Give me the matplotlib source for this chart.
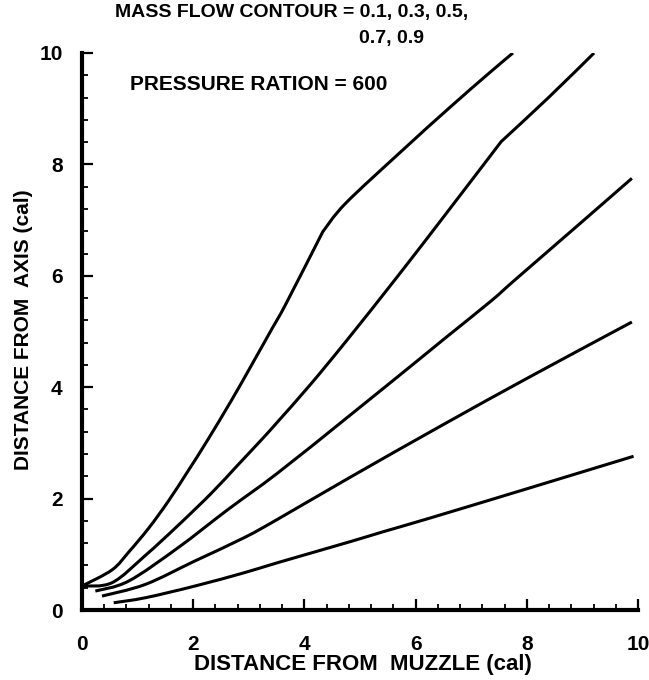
import numpy as np
import matplotlib
matplotlib.use("Agg")
import matplotlib.pyplot as plt
from matplotlib.ticker import MultipleLocator
from matplotlib.path import Path
from matplotlib.patches import PathPatch

plt.rcParams['font.family'] = ['Liberation Sans', 'DejaVu Sans']
plt.rcParams['font.weight'] = 'bold'

# contour lines (x = distance from muzzle, y = distance from axis)
x_a = [0.0, 0.54, 0.84, 1.20, 1.55, 1.91, 2.24, 2.68, 3.04, 3.40, 3.67, 4.33, 4.74, 5.76, 6.59, 7.30, 7.75]
y_a = [0.43, 0.72, 1.04, 1.47, 1.95, 2.50, 3.02, 3.75, 4.38, 5.02, 5.50, 6.79, 7.30, 8.25, 9.00, 9.62, 10.0]
kink_a = 11   # sharp bend near x=4.3

x_b = [0.0, 0.54, 1.14, 1.73, 2.33, 2.80, 3.25, 3.52, 4.11, 4.77, 5.70, 6.59, 7.54, 8.38, 9.21]
y_b = [0.43, 0.49, 0.98, 1.52, 2.10, 2.60, 3.08, 3.38, 4.05, 4.85, 6.02, 7.17, 8.41, 9.19, 10.0]
kink_b = 12   # bend near x=7.5

x_c = [0.24, 0.84, 1.73, 2.62, 3.52, 4.80, 5.99, 6.53, 7.36, 7.78, 8.97, 9.89]
y_c = [0.34, 0.52, 1.12, 1.80, 2.46, 3.48, 4.44, 4.88, 5.55, 5.92, 6.95, 7.75]

x_d = [0.36, 1.14, 2.03, 2.92, 3.52, 4.80, 6.50, 8.08, 9.89]
y_d = [0.25, 0.46, 0.88, 1.30, 1.63, 2.37, 3.33, 4.20, 5.17]

x_e = [0.57, 1.14, 2.03, 2.92, 3.52, 4.80, 5.40, 6.29, 8.08, 9.92]
y_e = [0.13, 0.22, 0.43, 0.67, 0.85, 1.22, 1.40, 1.66, 2.20, 2.76]

curves = [(x_a, y_a, [kink_a]), (x_b, y_b, [kink_b]), (x_c, y_c, []),
          (x_d, y_d, []), (x_e, y_e, [])]


def smooth_path(xs, ys, kinks):
  # catmull-rom through the read points, drawn as bezier segments
  pts = np.column_stack([xs, ys])
  n = len(pts)
  verts = [pts[0]]
  codes = [Path.MOVETO]
  for i in range(n - 1):
    p1, p2 = pts[i], pts[i + 1]
    p0 = pts[i - 1] if (i > 0 and i not in kinks) else p1
    p3 = pts[i + 2] if (i + 2 < n and (i + 1) not in kinks) else p2
    verts += [p1 + (p2 - p0) / 6.0, p2 - (p3 - p1) / 6.0, p2]
    codes += [Path.CURVE4] * 3
  return Path(verts, codes)


W, H = 649, 680
fig = plt.figure(figsize=(W/100, H/100), dpi=100)
ax = fig.add_axes([82/W, 1-610/H, (638-82)/W, (610-53)/H])

for xs, ys, kinks in curves:
  ax.add_patch(PathPatch(smooth_path(xs, ys, kinks), fill=False,
                         edgecolor='black', lw=2.2, capstyle='butt',
                         joinstyle='round'))

ax.set_xlim(0, 10)
ax.set_ylim(0, 10)
ax.spines['top'].set_visible(False)
ax.spines['right'].set_visible(False)
ax.spines['left'].set_linewidth(3)
ax.spines['bottom'].set_linewidth(3)

ax.xaxis.set_major_locator(MultipleLocator(2))
ax.xaxis.set_minor_locator(MultipleLocator(0.4))
ax.yaxis.set_major_locator(MultipleLocator(2))
ax.yaxis.set_minor_locator(MultipleLocator(0.4))
ax.tick_params(which='major', direction='in', length=8, width=1.6, labelsize=15)
ax.tick_params(which='minor', direction='in', length=4.5, width=1.3)
ax.tick_params(axis='x', which='major', pad=18)
ax.tick_params(axis='y', which='major', pad=14)

ax.set_xlabel('DISTANCE FROM  MUZZLE (cal)', fontsize=16, fontweight='bold')
ax.xaxis.set_label_coords(0.505, -0.097)
ax.xaxis.label.set_va('center')
ax.set_ylabel('DISTANCE FROM  AXIS (cal)', fontsize=15, fontweight='bold')
ax.yaxis.set_label_coords(-0.106, 0.503)
ax.yaxis.label.set_va('center')

fig.text(115/W, 1-13/H, 'MASS FLOW CONTOUR = 0.1, 0.3, 0.5,', fontsize=14,
         fontweight='bold', ha='left', va='center')
fig.text(359/W, 1-39/H, '0.7, 0.9', fontsize=14, fontweight='bold',
         ha='left', va='center')
fig.text(130/W, 1-85/H, 'PRESSURE RATION = 600', fontsize=15,
         fontweight='bold', ha='left', va='center')

fig.savefig('out.png', dpi=100)
